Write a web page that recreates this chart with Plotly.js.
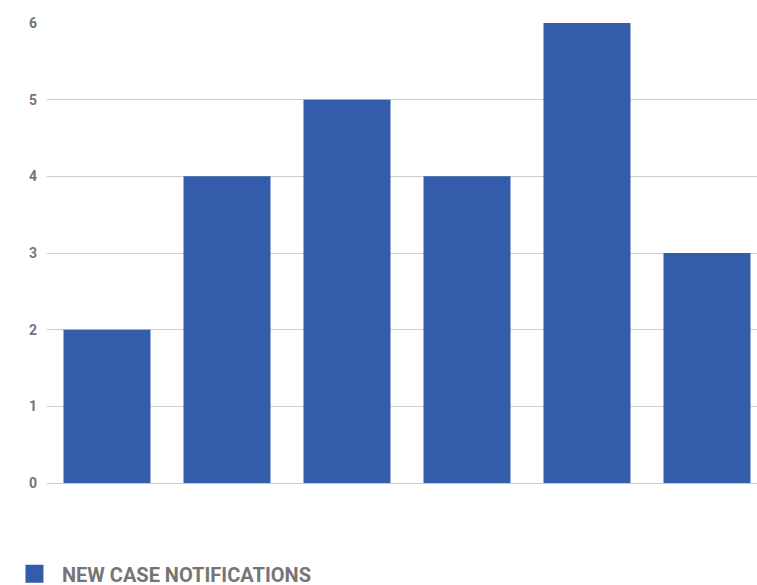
<!DOCTYPE html>
<html>
<head>
<meta charset="utf-8">
<script src="https://cdn.plot.ly/plotly-3.0.1.min.js"></script>
<style>
  html, body { margin: 0; padding: 0; background: #fff; }
  #chart { width: 757px; height: 585px; }
</style>
</head>
<body>
<div id="chart"></div>
<script>
// Weekly notification counts
const categories = ['A', 'B', 'C', 'D', 'E', 'F'];
const notifications = [2, 4, 5, 4, 6, 3];
const seriesName = 'NEW CASE NOTIFICATIONS';
const yTicks = [0, 1, 2, 3, 4, 5, 6];

const barColor = '#335CAA';
const labelColor = '#757575';

const bars = {
  type: 'bar',
  x: categories,
  y: notifications,
  marker: { color: barColor },
  showlegend: false,
  hoverinfo: 'y'
};

// legend entry with a larger square swatch (outline widens the 16px cap)
const legendEntry = {
  type: 'scatter',
  mode: 'markers',
  x: [null],
  y: [null],
  name: seriesName,
  marker: { symbol: 'square', size: 16, color: barColor, line: { color: barColor, width: 2 } },
  showlegend: true
};

const layout = {
  width: 757,
  height: 585,
  margin: { l: 47, r: 0, t: 23, b: 102, autoexpand: false },
  paper_bgcolor: '#fff',
  plot_bgcolor: '#fff',
  bargap: 0.275,
  font: { family: 'Roboto, sans-serif', color: labelColor },
  xaxis: {
    type: 'category',
    range: [-0.5, 5.4167],
    showticklabels: false,
    showgrid: false,
    zeroline: false,
    showline: false,
    ticks: ''
  },
  yaxis: {
    range: [0, 6],
    tickvals: yTicks,
    showgrid: true,
    gridcolor: '#cccccc',
    gridwidth: 1,
    zeroline: true,
    zerolinecolor: '#cccccc',
    zerolinewidth: 1,
    showline: false,
    ticks: '',
    ticklabelstandoff: 9,
    tickfont: { family: 'Roboto, sans-serif', size: 14, color: labelColor, weight: 'bold' }
  },
  showlegend: true,
  legend: {
    orientation: 'h',
    x: 0.0092,
    xref: 'container',
    xanchor: 'left',
    y: -0.1975,
    yref: 'paper',
    yanchor: 'middle',
    itemwidth: 45,
    font: { family: 'Roboto, sans-serif', size: 20, color: labelColor, weight: 'bold' },
    bgcolor: 'rgba(0,0,0,0)'
  }
};

Plotly.newPlot('chart', [bars, legendEntry], layout, { displayModeBar: false, staticPlot: true });
</script>
</body>
</html>
